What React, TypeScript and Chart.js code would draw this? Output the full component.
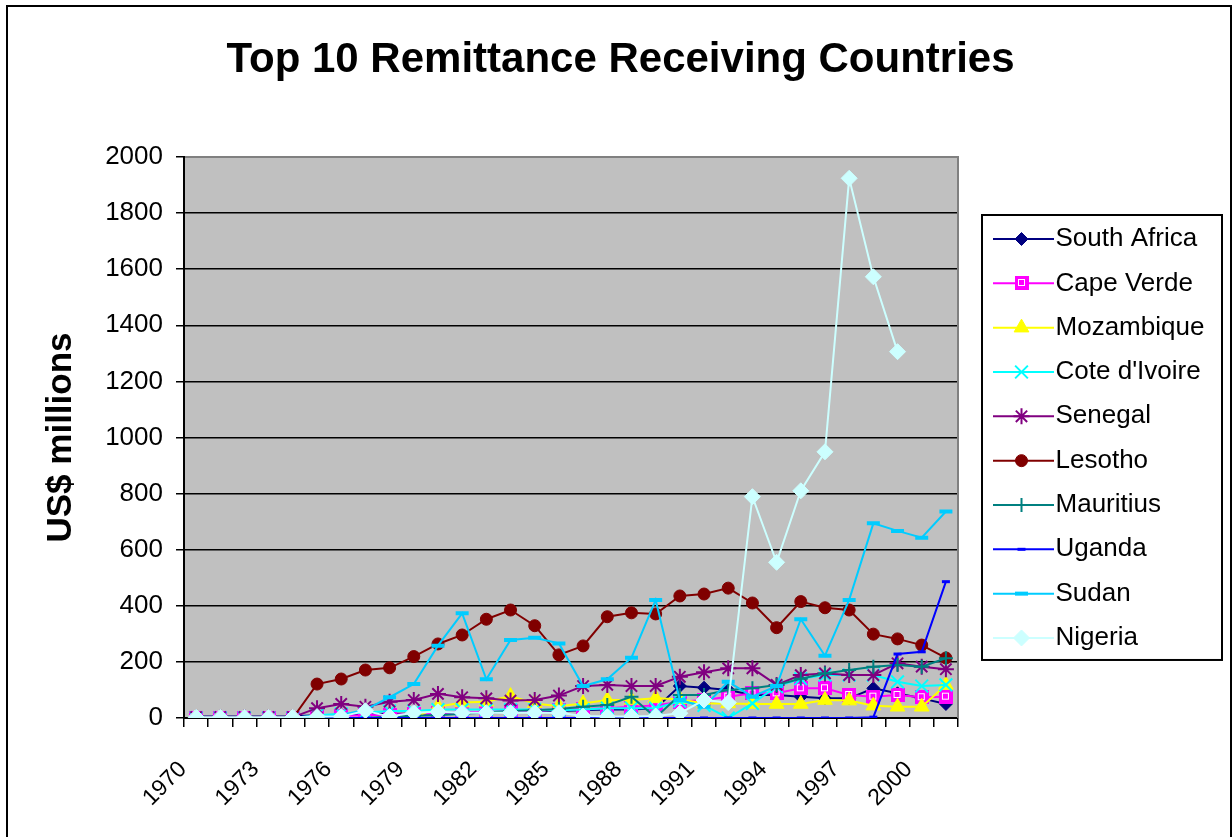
import React, { useEffect, useRef } from 'react';
import { Chart, registerables } from 'chart.js';

Chart.register(...registerables);

// ---------- data ----------
const YEARS = [
  '1970', '1971', '1972', '1973', '1974', '1975', '1976', '1977', '1978', '1979',
  '1980', '1981', '1982', '1983', '1984', '1985', '1986', '1987', '1988', '1989',
  '1990', '1991', '1992', '1993', '1994', '1995', '1996', '1997', '1998', '1999',
  '2000', '2001',
];

const SOUTH_AFRICA = [5, 5, 5, 5, 6, 10, 12, 14, 15, 15, 16, 18, 20, 22, 22, 25, 28, 30, 30, 35, 114, 108, 100, 82, 82, 76, 70, 70, 106, 88, 70, 50];
const CAPE_VERDE = [0, 0, 0, 0, 0, 5, 8, 10, 12, 15, 18, 20, 22, 25, 25, 30, 32, 35, 40, 45, 58, 64, 76, 88, 88, 106, 106, 82, 76, 82, 74, 76];
const MOZAMBIQUE = [0, 0, 0, 0, 0, 0, 0, 0, 0, 0, 40, 55, 58, 78, 52, 42, 52, 64, 64, 70, 67, 52, 52, 50, 50, 50, 64, 62, 44, 40, 40, 118];
const COTE_DIVOIRE = [0, 0, 0, 0, 0, 10, 15, 20, 25, 25, 30, 30, 30, 30, 30, 28, 30, 35, 35, 35, 60, 45, 0, 52, 112, 140, 153, 153, 153, 129, 114, 118];
const SENEGAL = [3, 3, 3, 3, 3, 35, 50, 40, 58, 64, 86, 74, 70, 62, 64, 80, 114, 118, 114, 114, 147, 163, 177, 177, 118, 153, 159, 153, 153, 195, 183, 174];
const LESOTHO = [0, 0, 0, 0, 0, 121, 139, 171, 179, 219, 264, 296, 352, 385, 329, 225, 257, 361, 375, 371, 435, 442, 463, 410, 322, 415, 393, 385, 299, 282, 260, 214];
const MAURITIUS = [0, 0, 0, 0, 0, 0, 0, 0, 5, 8, 10, 15, 20, 25, 28, 32, 40, 46, 76, 2, 82, 82, 100, 106, 118, 140, 159, 171, 183, 189, 183, 213];
const UGANDA = [0, 0, 0, 0, 0, 0, 0, 0, 0, 0, 0, 0, 0, 0, 0, 0, 0, 0, 0, 0, 0, 0, 0, 0, 0, 0, 0, 0, 3, 228, 236, 486];
const SUDAN = [0, 0, 0, 0, 0, 3, 10, 30, 74, 121, 258, 373, 138, 278, 286, 266, 114, 138, 215, 421, 64, 40, 129, 76, 114, 352, 222, 421, 694, 667, 643, 736];
const NIGERIA = [3, 3, 3, 3, 3, 5, 5, 26, 5, 19, 22, 19, 19, 19, 19, 19, 7, 5, 5, 7, 17, 64, 55, 789, 555, 810, 949, 1924, 1573, 1306, null, null];

const Y_TICKS = { min: 0, max: 2000, step: 200 };
const TICK_EVERY = 3;

// ---------- styles ----------
const FONT = "'Liberation Sans', Arial, Helvetica, sans-serif";

type SeriesStyle = {
  label: string;
  data: (number | null)[];
  color: string;
  point: string;
  r: number;
  bw: number;
  filled: boolean;
};

const SERIES: SeriesStyle[] = [
  { label: 'South Africa', data: SOUTH_AFRICA, color: '#000080', point: 'rectRot', r: 6.5, bw: 1, filled: true },
  { label: 'Cape Verde', data: CAPE_VERDE, color: '#FF00FF', point: 'squareImg', r: 9, bw: 1, filled: true },
  { label: 'Mozambique', data: MOZAMBIQUE, color: '#FFFF00', point: 'triangle', r: 8.5, bw: 1, filled: true },
  { label: "Cote d'Ivoire", data: COTE_DIVOIRE, color: '#00FFFF', point: 'crossRot', r: 9, bw: 2, filled: false },
  { label: 'Senegal', data: SENEGAL, color: '#800080', point: 'star', r: 8, bw: 2, filled: false },
  { label: 'Lesotho', data: LESOTHO, color: '#800000', point: 'circle', r: 6, bw: 1, filled: true },
  { label: 'Mauritius', data: MAURITIUS, color: '#008080', point: 'cross', r: 7, bw: 2, filled: false },
  { label: 'Uganda', data: UGANDA, color: '#0000FF', point: 'line', r: 4, bw: 3, filled: false },
  { label: 'Sudan', data: SUDAN, color: '#00CCFF', point: 'line', r: 6.5, bw: 4, filled: false },
  { label: 'Nigeria', data: NIGERIA, color: '#CCFFFF', point: 'rectRot', r: 8, bw: 1, filled: true },
];

const LEGEND_W = 274;
const LEGEND_PAD = 18.33;
const LEGEND_FONT = 26;

let squareImg: HTMLCanvasElement | null = null;
function getSquareImg(color: string): HTMLCanvasElement {
  if (squareImg) return squareImg;
  const c = document.createElement('canvas');
  c.width = 14;
  c.height = 14;
  const g = c.getContext('2d')!;
  g.fillStyle = color;
  g.fillRect(0, 0, 14, 14);
  g.strokeStyle = '#FFFFFF';
  g.lineWidth = 1;
  g.strokeRect(3.5, 3.5, 6, 6);
  squareImg = c;
  return c;
}

function drawMarker(ctx: CanvasRenderingContext2D, s: SeriesStyle, x: number, y: number) {
  const r = s.r;
  ctx.save();
  ctx.fillStyle = s.color;
  ctx.strokeStyle = s.color;
  ctx.lineWidth = s.bw;
  if (s.point === 'squareImg') {
    const img = getSquareImg(s.color);
    ctx.drawImage(img, Math.round(x - img.width / 2), Math.round(y - img.height / 2));
    ctx.restore();
    return;
  }
  ctx.beginPath();
  switch (s.point) {
    case 'circle':
      ctx.arc(x, y, r, 0, Math.PI * 2);
      ctx.closePath();
      break;
    case 'rect': {
      const h = r * Math.SQRT1_2;
      ctx.rect(x - h, y - h, 2 * h, 2 * h);
      break;
    }
    case 'rectRot':
      ctx.moveTo(x - r, y);
      ctx.lineTo(x, y - r);
      ctx.lineTo(x + r, y);
      ctx.lineTo(x, y + r);
      ctx.closePath();
      break;
    case 'triangle': {
      let a = 0;
      ctx.moveTo(x + Math.sin(a) * r, y - Math.cos(a) * r);
      a += (2 * Math.PI) / 3;
      ctx.lineTo(x + Math.sin(a) * r, y - Math.cos(a) * r);
      a += (2 * Math.PI) / 3;
      ctx.lineTo(x + Math.sin(a) * r, y - Math.cos(a) * r);
      ctx.closePath();
      break;
    }
    case 'cross':
      ctx.moveTo(x, y - r);
      ctx.lineTo(x, y + r);
      ctx.moveTo(x - r, y);
      ctx.lineTo(x + r, y);
      break;
    case 'crossRot': {
      const d = r * Math.SQRT1_2;
      ctx.moveTo(x - d, y - d);
      ctx.lineTo(x + d, y + d);
      ctx.moveTo(x - d, y + d);
      ctx.lineTo(x + d, y - d);
      break;
    }
    case 'star': {
      const d = r * Math.SQRT1_2;
      ctx.moveTo(x, y - r);
      ctx.lineTo(x, y + r);
      ctx.moveTo(x - r, y);
      ctx.lineTo(x + r, y);
      ctx.moveTo(x - d, y - d);
      ctx.lineTo(x + d, y + d);
      ctx.moveTo(x - d, y + d);
      ctx.lineTo(x + d, y - d);
      break;
    }
    case 'line':
      ctx.moveTo(x - r, y);
      ctx.lineTo(x + r, y);
      break;
  }
  if (s.filled) ctx.fill();
  ctx.stroke();
  ctx.restore();
}

const framePlugin = {
  id: 'excelFrame',
  beforeLayout(chart: any) {
    const lg = chart.legend;
    if (lg && !lg.__fixedWidth) {
      const orig = lg.fit.bind(lg);
      lg.fit = function () {
        orig();
        this.width = LEGEND_W;
      };
      lg.__fixedWidth = true;
    }
  },
  beforeDraw(chart: any) {
    const { ctx, chartArea: a, width, height } = chart;
    ctx.save();
    ctx.fillStyle = '#FFFFFF';
    ctx.fillRect(0, 0, width, height);
    ctx.fillStyle = '#C0C0C0';
    ctx.fillRect(a.left, a.top, a.right - a.left, a.bottom - a.top);
    ctx.restore();
  },
  beforeDatasetsDraw(chart: any) {
    const { ctx, chartArea: a } = chart;
    ctx.save();
    ctx.strokeStyle = '#808080';
    ctx.lineWidth = 2;
    ctx.beginPath();
    ctx.moveTo(a.left + 1, a.top);
    ctx.lineTo(a.right, a.top);
    ctx.lineTo(a.right, a.bottom);
    ctx.stroke();
    ctx.restore();
  },
  afterDraw(chart: any) {
    const { ctx } = chart;
    ctx.save();
    // outer chart border
    ctx.strokeStyle = '#000000';
    ctx.lineWidth = 2;
    ctx.strokeRect(7, 6, 1224, 860);
    // legend frame, line samples and markers
    const lg = chart.legend;
    if (lg && lg.legendHitBoxes && lg.legendHitBoxes.length) {
      const hbs = lg.legendHitBoxes;
      const first = hbs[0];
      const last = hbs[hbs.length - 1];
      const x0 = lg.left + 24;
      const x1 = lg.left + 264;
      const y0 = first.top - 11;
      const y1 = last.top + last.height + 9;
      ctx.lineWidth = 2;
      ctx.strokeStyle = '#000000';
      ctx.strokeRect(x0, y0, x1 - x0, y1 - y0);
      hbs.forEach((hb: any, i: number) => {
        const s = SERIES[i];
        const cy = hb.top + hb.height / 2;
        ctx.save();
        ctx.strokeStyle = s.color;
        ctx.lineWidth = 2;
        ctx.beginPath();
        ctx.moveTo(lg.left + 35, cy);
        ctx.lineTo(lg.left + 96, cy);
        ctx.stroke();
        ctx.restore();
        drawMarker(ctx, s, lg.left + 63.5, cy);
      });
    }
    ctx.restore();
  },
};

export default function App() {
  const ref = useRef<HTMLCanvasElement | null>(null);

  useEffect(() => {
    const canvas = ref.current;
    if (!canvas) return;
    Chart.defaults.font.family = FONT;
    Chart.defaults.color = '#000000';

    const chart = new Chart(canvas, {
      type: 'line',
      data: {
        labels: YEARS,
        datasets: SERIES.map((s, i) => ({
          label: s.label,
          data: s.data,
          borderColor: s.color,
          backgroundColor: s.color,
          borderWidth: 2,
          pointStyle: (s.point === 'squareImg' ? getSquareImg(s.color) : s.point) as any,
          pointRadius: s.r,
          pointHoverRadius: s.r,
          pointBorderWidth: s.bw,
          pointBackgroundColor: s.color,
          pointBorderColor: s.color,
          tension: 0,
          fill: false,
          spanGaps: false,
          order: SERIES.length - i,
        })),
      },
      options: {
        responsive: false,
        maintainAspectRatio: false,
        devicePixelRatio: 1,
        animation: false,
        events: [],
        layout: { padding: { left: 9, right: 0, top: 0, bottom: 0 } },
        plugins: {
          tooltip: { enabled: false },
          title: {
            display: true,
            text: 'Top 10 Remittance Receiving Countries',
            color: '#000000',
            font: { family: FONT, size: 42, weight: 'bold' },
            padding: { top: 34.8, bottom: 71.8 },
          },
          legend: {
            display: true,
            position: 'right',
            align: 'start',
            title: { display: true, text: '', font: { size: 12 }, padding: { top: 193.27, bottom: 0 } },
            labels: {
              boxWidth: 66.2,
              boxHeight: 2,
              padding: LEGEND_PAD,
              color: '#000000',
              font: { family: FONT, size: LEGEND_FONT },
              generateLabels: (c: any) =>
                c.data.datasets.map((ds: any, i: number) => ({
                  text: ds.label,
                  fillStyle: 'rgba(0,0,0,0)',
                  strokeStyle: 'rgba(0,0,0,0)',
                  lineWidth: 0,
                  hidden: false,
                  datasetIndex: i,
                  fontColor: '#000000',
                })),
            },
          },
        },
        scales: {
          x: {
            type: 'category',
            offset: true,
            grid: {
              offset: true,
              drawOnChartArea: false,
              drawTicks: true,
              tickLength: 9,
              color: '#000000',
              lineWidth: 1.5,
            },
            border: { display: true, color: '#000000', width: 2 },
            ticks: {
              autoSkip: false,
              minRotation: 45,
              maxRotation: 45,
              padding: 29,
              labelOffset: -13,
              color: '#000000',
              font: { family: FONT, size: 23 },
              callback: (_v: any, idx: number) => (idx % TICK_EVERY === 0 ? YEARS[idx] : ''),
            },
            afterFit: (scale: any) => {
              scale.height = 119;
            },
          },
          y: {
            type: 'linear',
            min: Y_TICKS.min,
            max: Y_TICKS.max,
            grid: {
              drawOnChartArea: true,
              drawTicks: true,
              tickLength: 8,
              color: '#000000',
              lineWidth: 1.5,
            },
            border: { display: true, color: '#000000', width: 2 },
            ticks: {
              stepSize: Y_TICKS.step,
              padding: 13,
              color: '#000000',
              font: { family: FONT, size: 26 },
              callback: (v: any) => String(v),
            },
            title: {
              display: true,
              text: 'US$ millions',
              color: '#000000',
              font: { family: FONT, size: 35, weight: 'bold' },
              padding: { top: 31, bottom: 0 },
            },
            afterFit: (scale: any) => {
              scale.width = 175;
            },
          },
        },
      },
      plugins: [framePlugin],
    } as any);

    return () => chart.destroy();
  }, []);

  return (
    <div style={{ position: 'absolute', left: 0, top: 0, width: 1232, height: 837, background: '#ffffff', overflow: 'hidden' }}>
      <canvas ref={ref} width={1232} height={837} style={{ display: 'block', width: 1232, height: 837 }} />
    </div>
  );
}
